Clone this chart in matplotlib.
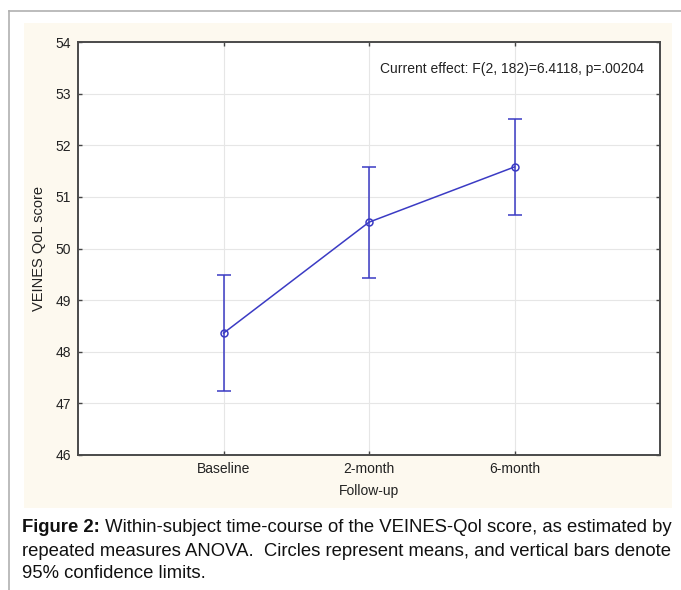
import matplotlib
matplotlib.use("Agg")
import matplotlib.pyplot as plt
from matplotlib import font_manager
from matplotlib.patches import Rectangle
from matplotlib.lines import Line2D

# data
timepoints = ["Baseline", "2-month", "6-month"]
means = [48.36, 50.51, 51.58]
ci_upper = [49.48, 51.58, 52.50]
ci_lower = [47.24, 49.43, 50.65]
y_ticks = [46, 47, 48, 49, 50, 51, 52, 53, 54]
effect_text = "Current effect: F(2, 182)=6.4118, p=.00204"
caption_bold = "Figure 2:"
caption_lines = [
    " Within-subject time-course of the VEINES-Qol score, as estimated by",
    "repeated measures ANOVA.  Circles represent means, and vertical bars denote",
    "95% confidence limits.",
]

names = {f.name for f in font_manager.fontManager.ttflist}
cap_font = "Liberation Sans Narrow" if "Liberation Sans Narrow" in names else "Liberation Sans"
cap_size = 16 if cap_font == "Liberation Sans Narrow" else 13.3

plt.rcParams["font.family"] = ["Liberation Sans", "DejaVu Sans"]

W, H = 681, 590
fig = plt.figure(figsize=(W / 100, H / 100), dpi=100)
fig.patch.set_facecolor("white")


def px(x0, y0, x1, y1):
    # pixel box -> figure fraction [left, bottom, width, height]
    return [x0 / W, 1 - y1 / H, (x1 - x0) / W, (y1 - y0) / H]


# outer frame lines
fig.add_artist(Line2D([9 / W, 1], [1 - 11 / H, 1 - 11 / H], color="#b0b0b0", lw=1.2))
fig.add_artist(Line2D([9 / W, 9 / W], [0, 1 - 11 / H], color="#b0b0b0", lw=1.2))

# cream panel behind the plot
b = px(24, 23, 672, 508)
fig.add_artist(Rectangle((b[0], b[1]), b[2], b[3], transform=fig.transFigure,
                         facecolor="#fdf9ef", edgecolor="none", zorder=0))

ax = fig.add_axes(px(78, 42, 660, 455))
ax.set_facecolor("white")
x = [1, 2, 3]
yerr = [[m - lo for m, lo in zip(means, ci_lower)],
        [hi - m for m, hi in zip(means, ci_upper)]]
ax.errorbar(x, means, yerr=yerr, color="#3b3bc4", lw=1.1, elinewidth=1.1,
            capsize=5.2, capthick=1.1, marker="o", ms=5, mfc="none",
            mec="#3b3bc4", mew=1.1, zorder=3)

ax.set_xlim(0, 4)
ax.set_ylim(46, 54)
ax.set_xticks(x)
ax.set_xticklabels(timepoints)
ax.set_yticks(y_ticks)
ax.grid(True, color="#e6e6e6", lw=0.8)
ax.set_axisbelow(True)
ax.tick_params(direction="in", length=3, width=1, color="#444444",
               top=True, right=True, labelsize=10, pad=5, labelcolor="#222222")
for s in ax.spines.values():
    s.set_color("#4a4a4a")
    s.set_linewidth(1.4)
ax.set_xlabel("Follow-up", fontsize=10, color="#222222", labelpad=6)
ax.set_ylabel("VEINES QoL score", fontsize=10.5, color="#222222", labelpad=7)
ax.text(0.972, 0.935, effect_text, transform=ax.transAxes, ha="right",
        va="center", fontsize=10, color="#222222")

# caption with bold lead-in
fig.canvas.draw()
r = fig.canvas.get_renderer()
y_lines = [527, 551, 574]
t = fig.text(22 / W, 1 - y_lines[0] / H, caption_bold, fontsize=cap_size,
             fontweight="bold", family=cap_font, va="center", color="#111111")
bb = t.get_window_extent(r)
fig.text(bb.x1 / W, 1 - y_lines[0] / H, caption_lines[0], fontsize=cap_size,
         family=cap_font, va="center", color="#111111")
for yl, line in zip(y_lines[1:], caption_lines[1:]):
    fig.text(22 / W, 1 - yl / H, line, fontsize=cap_size, family=cap_font,
             va="center", color="#111111")

fig.savefig("out.png", dpi=100)
